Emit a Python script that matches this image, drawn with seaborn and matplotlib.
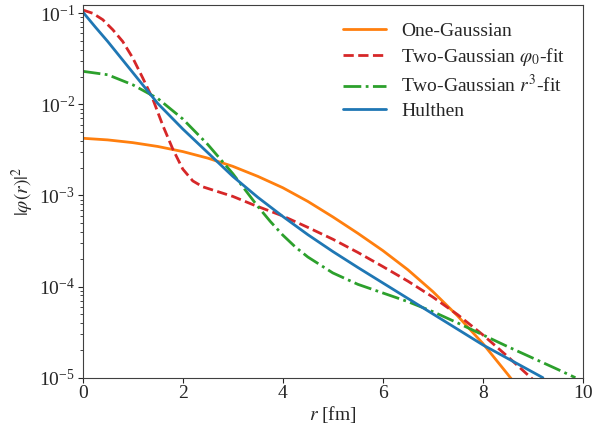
import numpy as np
import matplotlib
matplotlib.use("Agg")
import matplotlib.pyplot as plt
import seaborn as sns
import pandas as pd

# values (log10 of |phi(r)|^2)
r_one = [0, 0.5, 1.0, 1.5, 2.0, 2.5, 3.0, 3.5, 4.0, 4.5, 5.0, 5.5, 6.0, 6.5, 7.0, 7.5, 8.0, 8.5, 8.6]
log_one = [-2.372, -2.39, -2.42, -2.462, -2.518, -2.59, -2.68, -2.79, -2.915, -3.065, -3.235,
           -3.415, -3.605, -3.815, -4.055, -4.325, -4.625, -4.965, -5.035]

r_phi0 = [0, 0.2, 0.4, 0.6, 0.8, 1.0, 1.2, 1.4, 1.6, 1.8, 2.0, 2.2, 2.4, 2.6, 3.0, 3.4, 4.0,
          4.5, 5.0, 5.5, 6.0, 6.5, 7.0, 7.5, 8.0, 8.5, 9.0]
log_phi0 = [-0.964, -1.0, -1.07, -1.18, -1.31, -1.49, -1.71, -1.94, -2.23, -2.49, -2.71, -2.84,
            -2.905, -2.94, -3.01, -3.10, -3.225, -3.35, -3.48, -3.625, -3.78, -3.94, -4.115,
            -4.31, -4.53, -4.77, -5.02]

r_r3 = [0, 0.5, 1.0, 1.5, 2.0, 2.5, 3.0, 3.25, 3.5, 3.75, 4.0, 4.25, 4.5, 5.0, 5.5, 6.0, 6.5,
        7.0, 7.5, 8.0, 8.5, 9.0, 9.5, 9.85]
log_r3 = [-1.637, -1.675, -1.785, -1.935, -2.16, -2.44, -2.76, -2.94, -3.12, -3.285, -3.435,
          -3.565, -3.675, -3.85, -3.975, -4.07, -4.165, -4.275, -4.40, -4.53, -4.66, -4.785,
          -4.91, -5.0]

r_hul = [0, 0.25, 0.5, 0.75, 1.0, 1.5, 2.0, 2.5, 3.0, 3.5, 4.0, 4.5, 5.0, 5.5, 6.0, 6.5, 7.0,
         7.5, 8.0, 8.5, 9.0, 9.2]
log_hul = [-0.985, -1.15, -1.31, -1.48, -1.65, -1.99, -2.27, -2.53, -2.79, -3.02, -3.23, -3.43,
           -3.615, -3.79, -3.96, -4.13, -4.30, -4.47, -4.64, -4.79, -4.94, -5.0]

series = [
    ("One-Gaussian", r_one, log_one, "#ff7f0e", "-"),
    (r"Two-Gaussian $\varphi_0$-fit", r_phi0, log_phi0, "#d62728", "--"),
    (r"Two-Gaussian $r^3$-fit", r_r3, log_r3, "#2ca02c", "-."),
    ("Hulthen", r_hul, log_hul, "#1f77b4", "-"),
]

sns.set_style("ticks")
plt.rcParams["font.family"] = "serif"
plt.rcParams["font.serif"] = ["Liberation Serif", "DejaVu Serif"]
plt.rcParams["mathtext.fontset"] = "stix"
fs = 14

fig, ax = plt.subplots(figsize=(5.93, 4.32), dpi=100)
fig.subplots_adjust(left=0.1395, right=0.983, top=0.989, bottom=0.1257)

for name, r, lg, col, ls in series:
    df = pd.DataFrame({"r": r, "phi2": 10.0 ** np.array(lg)})
    sns.lineplot(data=df, x="r", y="phi2", ax=ax, color=col, linestyle=ls,
                 linewidth=2, label=name, sort=True)

ax.set_yscale("log")
ax.set_xlim(0, 10)
ax.set_ylim(1e-5, 0.124)
ax.set_xlabel(r"$r$ [fm]", fontsize=fs, labelpad=1)
ax.set_ylabel(r"$|\varphi(r)|^2$", fontsize=fs, labelpad=2)
ax.tick_params(labelsize=fs, pad=2)
for s in ax.spines.values():
    s.set_color("0.25")

ax.legend(loc="upper right", frameon=False, fontsize=fs, handlelength=2.2,
          labelspacing=0.32, borderaxespad=0.5)

plt.savefig("out.png", dpi=100)
